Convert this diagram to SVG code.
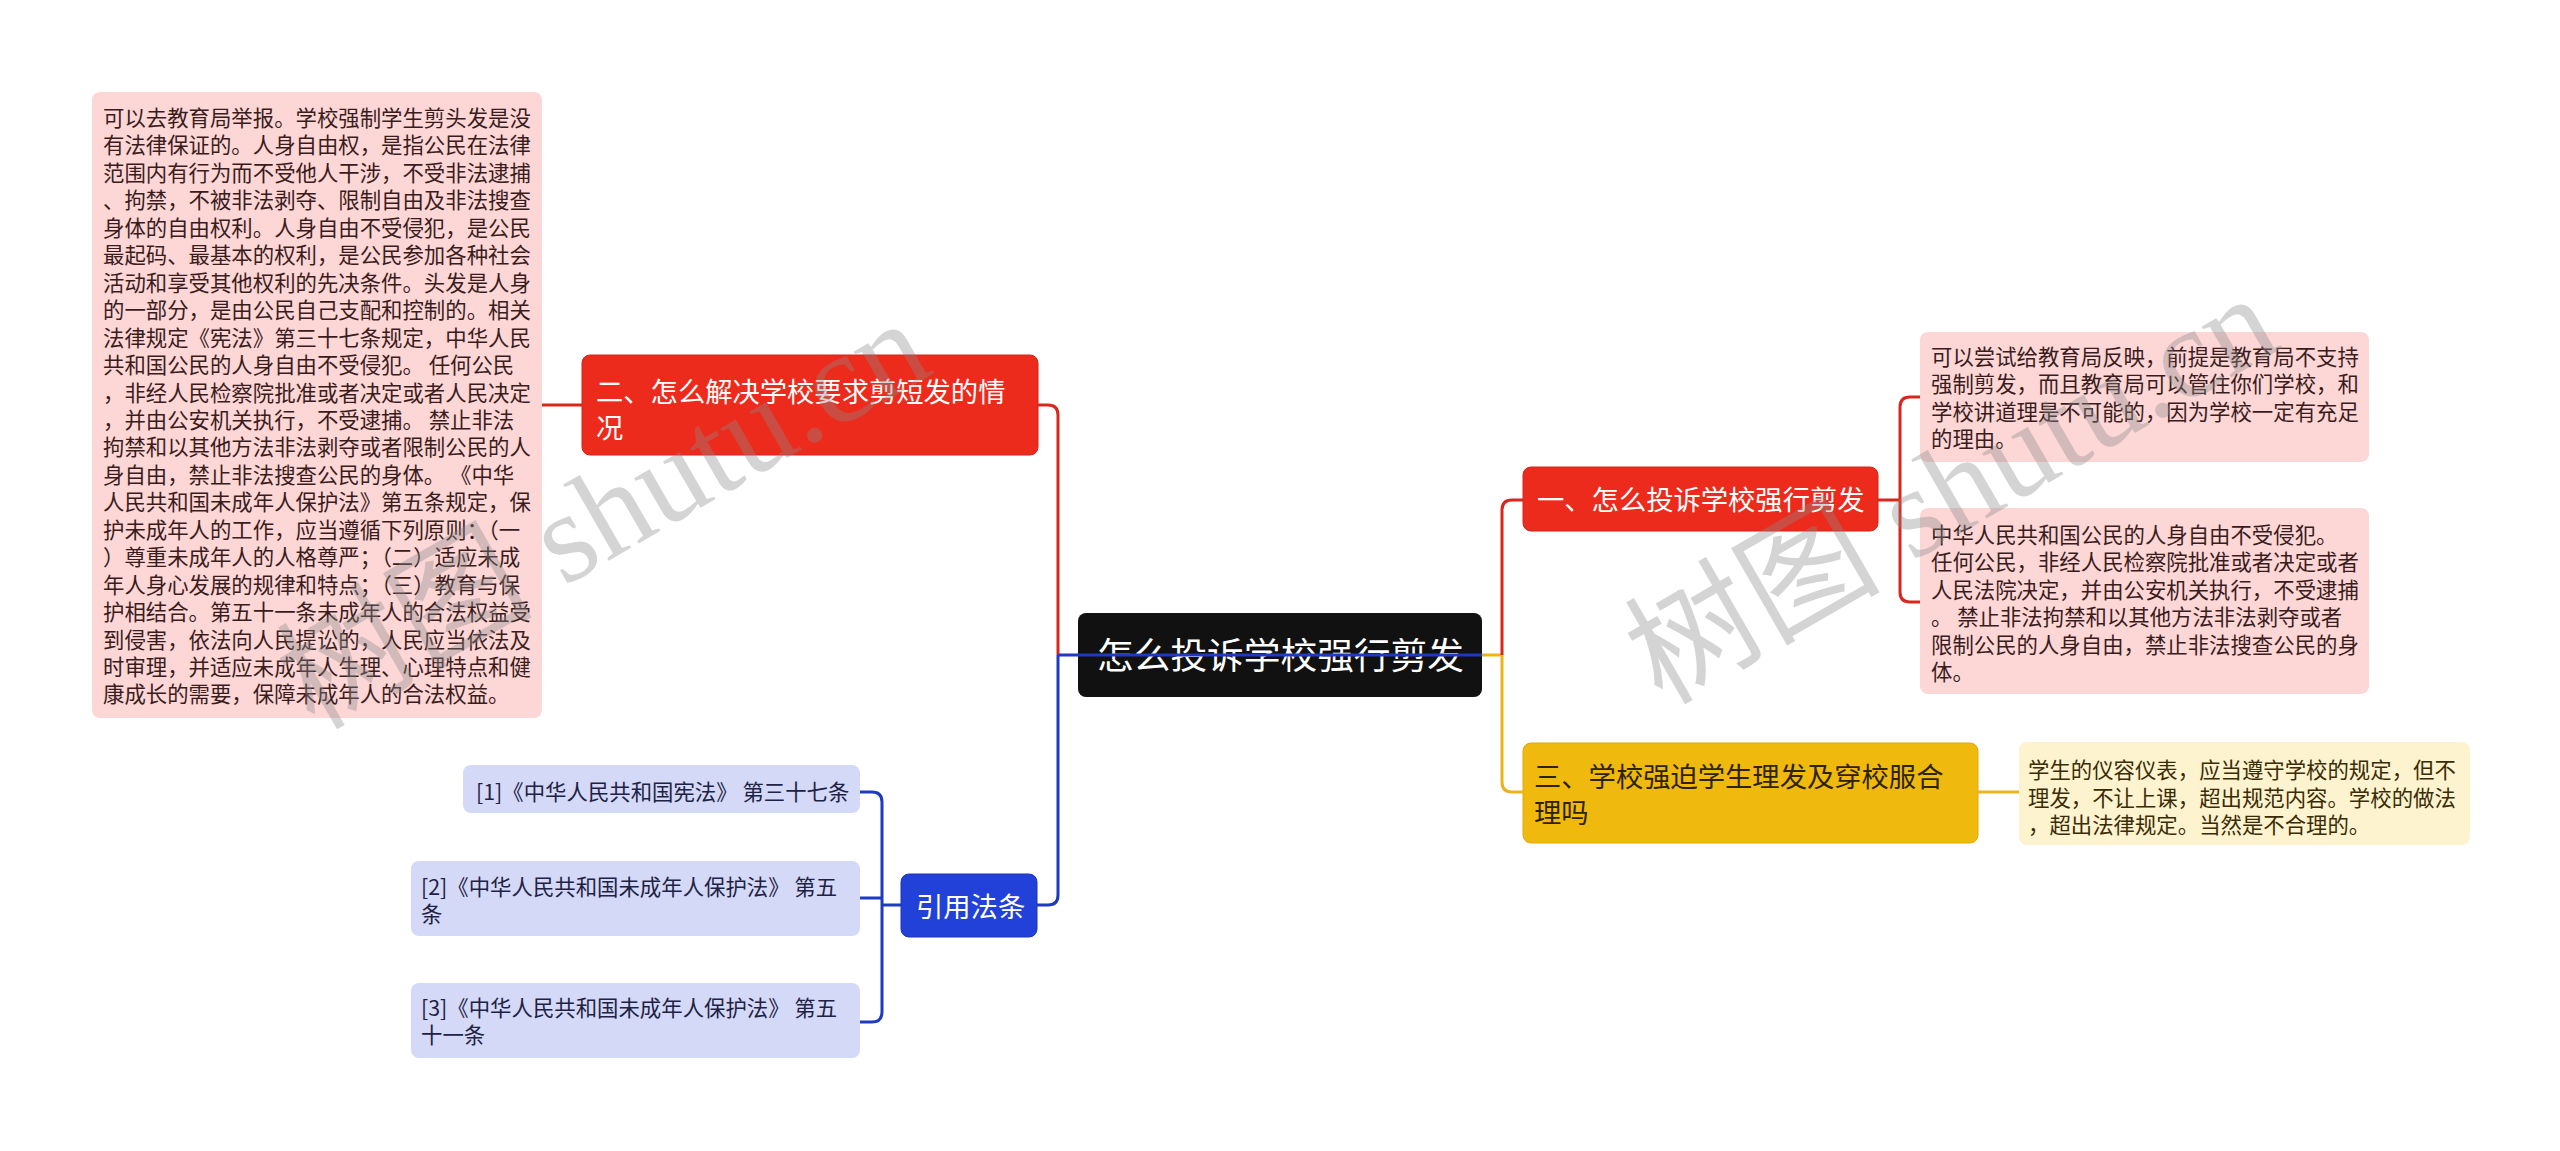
<svg xmlns="http://www.w3.org/2000/svg" width="2560" height="1151" viewBox="0 0 2560 1151">
<style>
text{font-family:"Noto Sans CJK SC","Noto Sans",sans-serif;}
.note{font-size:21.4px;fill:#3a1c1c;}
.bnote{font-size:21.4px;fill:#1e2244;}
.ynote{font-size:21.4px;fill:#3a2c05;}
.title{font-size:27.3px;fill:#ffffff;}
.ytitle{font-size:27.3px;fill:#2e2300;}
.pink{fill:#fdd6d6;}
.red{fill:#ed2b1c;stroke:#d42418;stroke-width:1;}
.lb{fill:#d4d9f7;}
.cr{fill:none;stroke:#d8271c;stroke-width:3;}
.cb{fill:none;stroke:#1e3bc0;stroke-width:3;}
.cy{fill:none;stroke:#e9b41e;stroke-width:3;}
.wm{font-family:"Liberation Serif","Noto Sans CJK SC",serif;font-size:128px;fill:#8a8a8a;opacity:0.36;}
</style>
<rect width="2560" height="1151" fill="#ffffff"/>

<g id="left-note">
<rect class="pink" x="92" y="92" width="450" height="626" rx="8"/>
<text class="note" x="103" y="126">
<tspan x="103" y="126">可以去教育局举报。学校强制学生剪头发是没</tspan>
<tspan x="103" dy="27.45">有法律保证的。人身自由权，是指公民在法律</tspan>
<tspan x="103" dy="27.45">范围内有行为而不受他人干涉，不受非法逮捕</tspan>
<tspan x="103" dy="27.45">、拘禁，不被非法剥夺、限制自由及非法搜查</tspan>
<tspan x="103" dy="27.45">身体的自由权利。人身自由不受侵犯，是公民</tspan>
<tspan x="103" dy="27.45">最起码、最基本的权利，是公民参加各种社会</tspan>
<tspan x="103" dy="27.45">活动和享受其他权利的先决条件。头发是人身</tspan>
<tspan x="103" dy="27.45">的一部分，是由公民自己支配和控制的。相关</tspan>
<tspan x="103" dy="27.45">法律规定《宪法》第三十七条规定，中华人民</tspan>
<tspan x="103" dy="27.45">共和国公民的人身自由不受侵犯。 任何公民</tspan>
<tspan x="103" dy="27.45">，非经人民检察院批准或者决定或者人民决定</tspan>
<tspan x="103" dy="27.45">，并由公安机关执行，不受逮捕。 禁止非法</tspan>
<tspan x="103" dy="27.45">拘禁和以其他方法非法剥夺或者限制公民的人</tspan>
<tspan x="103" dy="27.45">身自由，禁止非法搜查公民的身体。 《中华</tspan>
<tspan x="103" dy="27.45">人民共和国未成年人保护法》第五条规定，保</tspan>
<tspan x="103" dy="27.45">护未成年人的工作，应当遵循下列原则：（一</tspan>
<tspan x="103" dy="27.45">）尊重未成年人的人格尊严；（二）适应未成</tspan>
<tspan x="103" dy="27.45">年人身心发展的规律和特点；（三）教育与保</tspan>
<tspan x="103" dy="27.45">护相结合。第五十一条未成年人的合法权益受</tspan>
<tspan x="103" dy="27.45">到侵害，依法向人民提讼的，人民应当依法及</tspan>
<tspan x="103" dy="27.45">时审理，并适应未成年人生理、心理特点和健</tspan>
<tspan x="103" dy="27.45">康成长的需要，保障未成年人的合法权益。</tspan>
</text>
</g>

<g id="node-2">
<rect class="red" x="582" y="355" width="456" height="100" rx="8"/>
<text class="title"><tspan x="596" y="402">二、怎么解决学校要求剪短发的情</tspan><tspan x="596" dy="36">况</tspan></text>
</g>

<g id="node-cite">
<rect x="901" y="874" width="136" height="63" rx="8" fill="#2141d9" stroke="#1a35b8" stroke-width="1"/>
<text class="title" x="916" y="917">引用法条</text>
</g>

<g id="cite-1">
<rect class="lb" x="463" y="765" width="397" height="48" rx="8"/>
<text class="bnote" x="476" y="800">[1]《中华人民共和国宪法》 第三十七条</text>
</g>
<g id="cite-2">
<rect class="lb" x="411" y="861" width="449" height="75" rx="8"/>
<text class="bnote"><tspan x="421" y="895">[2]《中华人民共和国未成年人保护法》 第五</tspan><tspan x="421" dy="26.5">条</tspan></text>
</g>
<g id="cite-3">
<rect class="lb" x="411" y="983" width="449" height="75" rx="8"/>
<text class="bnote"><tspan x="421" y="1016">[3]《中华人民共和国未成年人保护法》 第五</tspan><tspan x="421" dy="26.5">十一条</tspan></text>
</g>

<g id="root">
<rect x="1078" y="613" width="404" height="84" rx="8" fill="#111111"/>
<text x="1097" y="669" font-size="36.7" fill="#ffffff">怎么投诉学校强行剪发</text>
</g>

<g id="node-1">
<rect class="red" x="1523" y="467" width="355" height="64" rx="8"/>
<text class="title" x="1537" y="510">一、怎么投诉学校强行剪发</text>
</g>

<g id="note-1a">
<rect class="pink" x="1920" y="332" width="449" height="130" rx="8"/>
<text class="note"><tspan x="1931" y="365">可以尝试给教育局反映，前提是教育局不支持</tspan><tspan x="1931" dy="27.3">强制剪发，而且教育局可以管住你们学校，和</tspan><tspan x="1931" dy="27.3">学校讲道理是不可能的，因为学校一定有充足</tspan><tspan x="1931" dy="27.3">的理由。</tspan></text>
</g>

<g id="note-1b">
<rect class="pink" x="1920" y="508" width="449" height="186" rx="8"/>
<text class="note"><tspan x="1931" y="543">中华人民共和国公民的人身自由不受侵犯。</tspan><tspan x="1931" dy="27.4">任何公民，非经人民检察院批准或者决定或者</tspan><tspan x="1931" dy="27.4">人民法院决定，并由公安机关执行，不受逮捕</tspan><tspan x="1931" dy="27.4">。 禁止非法拘禁和以其他方法非法剥夺或者</tspan><tspan x="1931" dy="27.4">限制公民的人身自由，禁止非法搜查公民的身</tspan><tspan x="1931" dy="27.4">体。</tspan></text>
</g>

<g id="node-3">
<rect x="1523" y="743" width="455" height="100" rx="8" fill="#f0b90d" stroke="#e0aa08" stroke-width="1"/>
<text class="ytitle"><tspan x="1534" y="787">三、学校强迫学生理发及穿校服合</tspan><tspan x="1534" dy="36">理吗</tspan></text>
</g>

<g id="note-3">
<rect x="2019" y="742" width="451" height="103" rx="8" fill="#fdf3cf"/>
<text class="ynote"><tspan x="2028" y="778">学生的仪容仪表，应当遵守学校的规定，但不</tspan><tspan x="2028" dy="27.5">理发，不让上课，超出规范内容。学校的做法</tspan><tspan x="2028" dy="27.5">，超出法律规定。当然是不合理的。</tspan></text>
</g>

<g id="connectors">
<path class="cr" d="M542 405 L582 405"/>
<path class="cr" d="M1038 405 L1048 405 Q1058 405 1058 415 L1058 655"/>
<path class="cb" d="M1058 655 L1058 895 Q1058 905 1048 905 L1037 905"/>
<path class="cb" d="M1058 655 L1482 655"/>
<path class="cb" d="M901 905 L882 905"/>
<path class="cb" d="M860 792 L872 792 Q882 792 882 802 L882 1012 Q882 1022 872 1022 L860 1022"/>
<path class="cb" d="M860 898 L882 898"/>
<path class="cy" d="M1482 655 L1502 655"/>
<path class="cr" d="M1502 655 L1502 510 Q1502 500 1512 500 L1523 500"/>
<path class="cy" d="M1502 655 L1502 782 Q1502 792 1512 792 L1523 792"/>
<path class="cr" d="M1878 500 L1900 500"/>
<path class="cr" d="M1920 397 L1910 397 Q1900 397 1900 407 L1900 592 Q1900 602 1910 602 L1920 602"/>
<path class="cy" d="M1978 792 L2019 792"/>
</g>

<g id="watermarks">
<text class="wm" transform="translate(314,731) rotate(-30)">树图 shutu.cn</text>
<text class="wm" transform="translate(1662,706) rotate(-30)">树图 shutu.cn</text>
</g>
</svg>
